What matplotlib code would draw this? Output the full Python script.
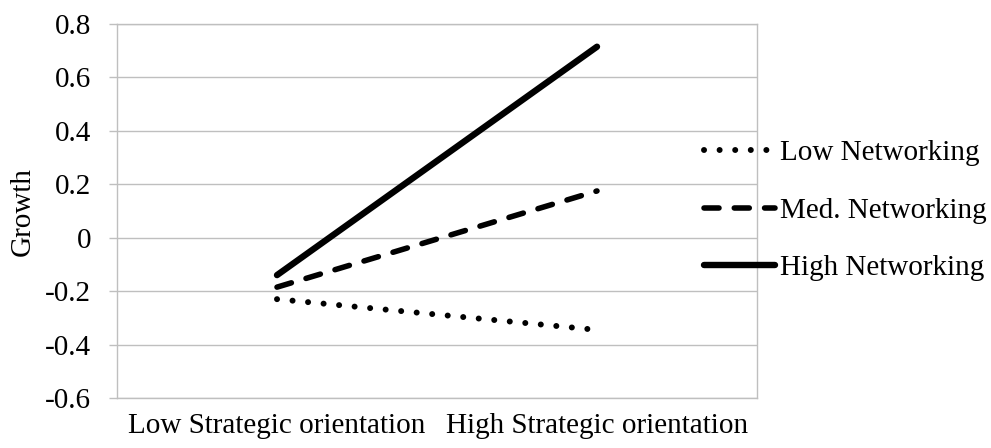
import matplotlib
matplotlib.use("Agg")
import matplotlib.pyplot as plt

categories = ["Low Strategic orientation", "High Strategic orientation"]
low_net = [-0.23, -0.345]
med_net = [-0.185, 0.175]
high_net = [-0.14, 0.715]
series_names = ["Low Networking", "Med. Networking", "High Networking"]
yticks = [-0.6, -0.4, -0.2, 0, 0.2, 0.4, 0.6, 0.8]
ytick_labels = ["-0.6", "-0.4", "-0.2", "0", "0.2", "0.4", "0.6", "0.8"]

plt.rcParams['font.family'] = ['Liberation Serif', 'DejaVu Serif']
FS = 21
W, H = 991, 448
fig = plt.figure(figsize=(W / 100, H / 100), dpi=100)
ax = fig.add_axes([117 / W, 1 - 398 / H, (757 - 117) / W, (398 - 24) / H])

x = [0, 1]
grid_c = "#bfbfbf"
lw = 4.0
ax.plot(x, low_net, color="black", lw=lw + 0.3, linestyle=(0, (0.01, 2.6)),
        dash_capstyle="round", solid_capstyle="round", label=series_names[0])
ax.plot(x, med_net, color="black", lw=lw, linestyle=(0, (2.7, 2.75)),
        dash_capstyle="round", solid_capstyle="round", label=series_names[1])
ax.plot(x, high_net, color="black", lw=lw + 0.6, linestyle="-",
        solid_capstyle="round", label=series_names[2])

ax.set_xlim(-0.5, 1.5)
ax.set_ylim(-0.6, 0.8)
ax.set_yticks(yticks)
ax.set_yticklabels(ytick_labels, fontsize=FS)
ax.set_xticks(x)
ax.set_xticklabels(categories, fontsize=FS)
ax.tick_params(axis="x", length=0, pad=11)
ax.tick_params(axis="y", length=5.8, color=grid_c, width=1, pad=13)
ax.yaxis.grid(True, color=grid_c, lw=1)
ax.set_axisbelow(True)
for s in ax.spines.values():
    s.set_color(grid_c)
    s.set_linewidth(1)

ax.set_ylabel("Growth", fontsize=FS)
ax.yaxis.set_label_coords((36 - 117) / (757 - 117), (398 - 212) / (398 - 24))

leg = fig.legend(loc="upper left", bbox_to_anchor=(704 / W, 1 - 140 / H),
                 frameon=False, fontsize=FS, handlelength=2.45,
                 handletextpad=0.15, labelspacing=1.06, borderpad=0, borderaxespad=0)

fig.savefig("out.png", dpi=100)
